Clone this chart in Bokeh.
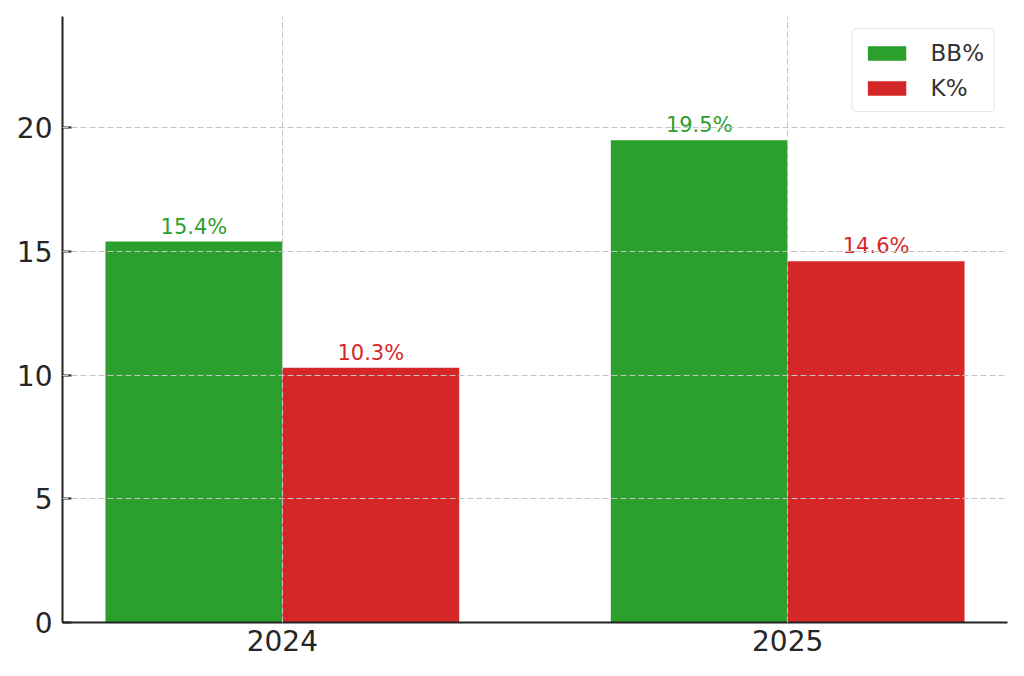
import numpy as np
from bokeh.plotting import figure
from bokeh.models import Range1d, FixedTicker, ColumnDataSource, Legend, LegendItem
from bokeh.core.properties import value
from bokeh.embed import file_html
from bokeh.resources import INLINE

years = ["2024", "2025"]
bb_pct = [15.4, 19.5]
k_pct = [10.3, 14.6]
y_ticks = [0, 5, 10, 15, 20]
series_names = ["BB%", "K%"]
colors = ["#2ca02c", "#d62728"]

width = 0.35
idx = np.arange(len(years))
FONT = "DejaVu Sans"

p = figure(width=1024, height=676, output_backend="svg", toolbar_location=None,
           x_range=Range1d(-0.435, 1.435), y_range=Range1d(0, 24.5),
           min_border_left=62, min_border_right=17, min_border_top=16, min_border_bottom=54)
p.outline_line_color = None
p.background_fill_color = "white"
p.border_fill_color = "white"

renderers = []
for vals, off, col in [(bb_pct, -width / 2, colors[0]), (k_pct, width / 2, colors[1])]:
    src = ColumnDataSource(dict(x=idx + off, top=vals,
                                label=[f"{v:.1f}%" for v in vals]))
    r = p.vbar(x="x", top="top", width=width, bottom=0, source=src,
               fill_color=col, line_color=None)
    renderers.append(r)
    p.text(x="x", y="top", text="label", source=src, text_align="center",
           text_baseline="bottom", y_offset=-3, text_color=col,
           text_font=value(FONT), text_font_size="21px")

# axes
p.xaxis.ticker = FixedTicker(ticks=list(idx))
p.xaxis.major_label_overrides = {int(i): y for i, y in zip(idx, years)}
p.yaxis.ticker = FixedTicker(ticks=y_ticks)
for ax in (p.xaxis[0], p.yaxis[0]):
    ax.axis_line_color = "#222222"
    ax.axis_line_width = 2
    ax.major_tick_line_color = "#222222"
    ax.major_tick_line_width = 2
    ax.minor_tick_line_color = None
    ax.major_label_text_font = FONT
    ax.major_label_text_font_size = "28px"
    ax.major_label_text_color = "#262626"
p.xaxis.major_tick_in = 0
p.xaxis.major_tick_out = 0
p.xaxis.major_label_standoff = 7
p.yaxis.major_tick_in = 9
p.yaxis.major_tick_out = 0
p.yaxis.major_label_standoff = 10

# grid
p.xgrid.ticker = FixedTicker(ticks=list(idx))
p.ygrid.ticker = FixedTicker(ticks=y_ticks)
for g in (p.xgrid[0], p.ygrid[0]):
    g.grid_line_color = "#c4c4c4"
    g.grid_line_dash = "6 3"
    g.grid_line_width = 1
    g.level = "overlay"

legend = Legend(items=[LegendItem(label=series_names[i], renderers=[renderers[i]]) for i in range(2)],
                location="top_right")
legend.margin = 12
legend.padding = 10
legend.spacing = 8
legend.glyph_width = 48
legend.glyph_height = 18
legend.label_height = 27
legend.label_standoff = 20
legend.label_text_font = FONT
legend.label_text_font_size = "23px"
legend.label_text_color = "#333333"
legend.border_line_color = "#cccccc"
legend.border_line_width = 1.5
legend.background_fill_color = "white"
legend.background_fill_alpha = 0.9
if "border_radius" in legend.properties():
    legend.border_radius = 5
p.add_layout(legend)

open("out.html", "w").write(file_html(p, INLINE))
